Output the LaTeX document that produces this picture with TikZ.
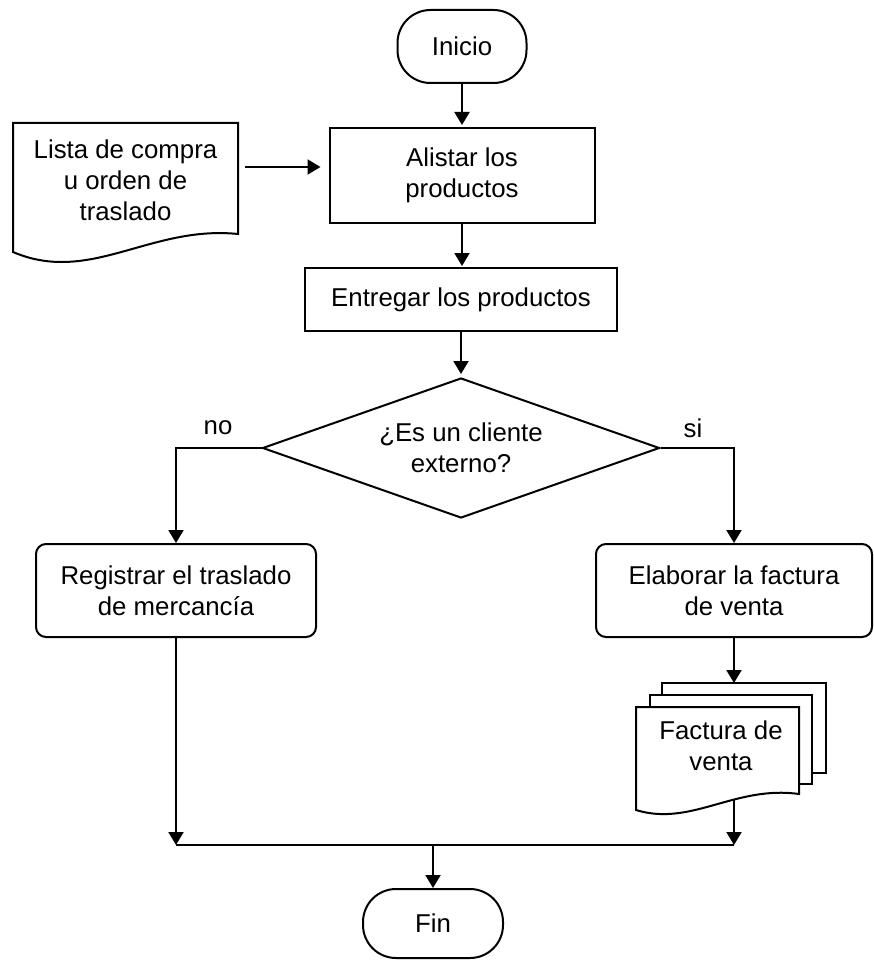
\documentclass[tikz,border=0pt]{standalone}
\usepackage{fontspec}
\setmainfont{Liberation Sans}
\usetikzlibrary{arrows.meta,shapes.geometric}
\newcommand\dgfont{\fontsize{12.9}{15.5}\selectfont}
\tikzset{
  base/.style={draw, line width=1pt, align=center, inner sep=0pt, font=\dgfont, fill=white},
  procbox/.style={base, rectangle},
  roundbox/.style={base, rectangle, rounded corners=5pt},
  termbox/.style={base, rectangle, rounded corners=16.5pt},
  decbox/.style={base, diamond, aspect=2.8},
  lbl/.style={font=\dgfont, inner sep=0pt, align=center},
  arr/.style={line width=1pt, -{Triangle[length=6.5pt,width=7.5pt]}},
  conn/.style={line width=1pt},
  docline/.style={line width=1pt, fill=white},
}
\begin{document}
\begin{tikzpicture}[x=0.5pt, y=-0.5pt]
\useasboundingbox (0,0) rectangle (873,963);

% main nodes
\node[termbox, minimum width=64.5pt, minimum height=36.5pt] (inicio) at (462,46.5) {Inicio};
\node[procbox, minimum width=132.5pt, minimum height=47.5pt] (alistar) at (462,175.5) {Alistar los\\productos};
\node[procbox, minimum width=156pt, minimum height=31.5pt] (entregar) at (461,299.5) {Entregar los productos};
\node[decbox, minimum width=198.5pt, minimum height=70pt] (dec) at (461,448) {¿Es un cliente\\externo?};
\node[roundbox, minimum width=140pt, minimum height=46.5pt] (registrar) at (176,590.5) {Registrar el traslado\\de mercancía};
\node[roundbox, minimum width=138pt, minimum height=46.5pt] (elaborar) at (734,590.5) {Elaborar la factura\\de venta};
\node[termbox, minimum width=70pt, minimum height=34.5pt] (fin) at (433,923.5) {Fin};

% document: lista
\draw[docline] (13,123) -- (238,123) -- (238,234) .. controls (150,225) and (90,285) .. (13,252) -- cycle;
\node[lbl] (lista) at (125.5,180) {Lista de compra\\u orden de\\traslado};
\coordinate (listaR) at (238,167);

% multi-document: factura
\draw[docline] (662,683) rectangle (826,773);
\draw[docline] (650,695) rectangle (812,784);
\draw[docline] (636,707) -- (799,707) -- (799,794) .. controls (735,785) and (691,827) .. (636,810) -- cycle;
\node[lbl] (factura) at (721,746) {Factura de\\venta};
\coordinate (factop) at (744,683);
\coordinate (facB) at (734,799);

% labels
\node[lbl] (no) at (218,428) {no};
\node[lbl] (si) at (693,428) {si};

% junction
\coordinate (jl) at (176,845);
\coordinate (jr) at (734,845);
\coordinate (jm) at (433,845);

% connectors
\draw[arr, shorten >=1pt] (inicio.south) -- (alistar.north);
\draw[arr, shorten <=3.5pt, shorten >=4pt] (listaR) -- (alistar.west |- listaR);
\draw[arr, shorten >=0.5pt] (alistar.south) -- (alistar.south |- entregar.north);
\draw[arr, shorten >=1.5pt] (entregar.south) -- (dec.north);
\draw[arr] (dec.west) -| (registrar.north);
\draw[arr] (dec.east) -| (elaborar.north);
\draw[arr] (elaborar.south) -- (elaborar.south |- factop);
\draw[arr] (registrar.south) -- (jl);
\draw[arr] (facB) -- (jr);
\draw[conn] (jl) -- (jr);
\draw[arr] (jm) -- (fin.north);
\end{tikzpicture}
\end{document}
